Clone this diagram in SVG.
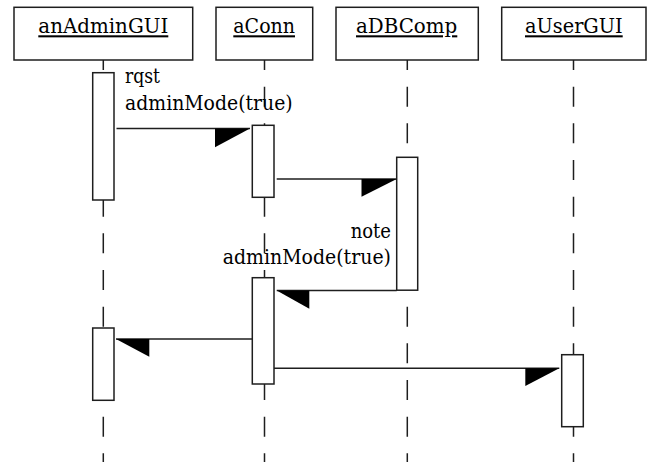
<svg xmlns="http://www.w3.org/2000/svg" width="649" height="462" viewBox="0 0 649 462">
<style>
.box{fill:#fff;stroke:#1e1e1e;stroke-width:1.5}
.life{stroke:#1e1e1e;stroke-width:1.5;stroke-dasharray:20 16.67;stroke-dashoffset:10;fill:none}
.act{fill:#fff;stroke:#1e1e1e;stroke-width:1.5}
.msg{stroke:#1e1e1e;stroke-width:1.5;fill:none}
.head{fill:#000;stroke:none}
.t{font-family:'DejaVu Serif','Liberation Serif',serif;font-size:20.5px;fill:#000}
.title{text-decoration:underline}
</style>
<rect width="649" height="462" fill="#fff"/>
<g id="anAdminGUI">
<line class="life" x1="103.3" y1="60" x2="103.3" y2="462"/>
<rect class="box" x="14" y="7.3" width="178.7" height="52.7"/>
<text class="t title" x="38.3" y="33.3" textLength="130" lengthAdjust="spacingAndGlyphs">anAdminGUI</text>
<rect class="act" x="92.7" y="72.7" width="21.3" height="127.3"/>
<rect class="act" x="92.7" y="328" width="21.3" height="72.3"/>
</g>
<g id="aConn">
<line class="life" x1="264.5" y1="60" x2="264.5" y2="462"/>
<rect class="box" x="216" y="7.3" width="96.7" height="52.7"/>
<text class="t title" x="233.3" y="33.3" textLength="61.7" lengthAdjust="spacingAndGlyphs">aConn</text>
<rect class="act" x="252.3" y="125.3" width="21.7" height="72"/>
<rect class="act" x="252.3" y="277.7" width="21.7" height="106.3"/>
</g>
<g id="aDBComp">
<line class="life" x1="407.3" y1="60" x2="407.3" y2="462"/>
<rect class="box" x="336" y="7.3" width="142.3" height="52.7"/>
<text class="t title" x="356" y="33.3" textLength="101.3" lengthAdjust="spacingAndGlyphs">aDBComp</text>
<rect class="act" x="396.7" y="157.3" width="21" height="132.9"/>
</g>
<g id="aUserGUI">
<line class="life" x1="573.5" y1="60" x2="573.5" y2="462"/>
<rect class="box" x="501.7" y="7.3" width="144.3" height="52.7"/>
<text class="t title" x="525" y="33.3" textLength="97.7" lengthAdjust="spacingAndGlyphs">aUserGUI</text>
<rect class="act" x="561.7" y="354.7" width="21.6" height="72"/>
</g>
<g id="connectors">
<g id="m1">
<line class="msg" x1="116.5" y1="128.5" x2="250" y2="128.5"/>
<polygon class="head" points="250,128.5 215,128.5 215,147.3"/>
<text class="t" x="125" y="83.3" textLength="35" lengthAdjust="spacingAndGlyphs">rqst</text>
<text class="t" x="125" y="109.5" textLength="167.7" lengthAdjust="spacingAndGlyphs">adminMode(true)</text>
</g>
<g id="m2">
<line class="msg" x1="276.7" y1="179" x2="396.7" y2="179"/>
<polygon class="head" points="396.7,179 361.5,179 361.5,196.7"/>
</g>
<g id="m3">
<line class="msg" x1="396.7" y1="290.4" x2="276.7" y2="290.4"/>
<polygon class="head" points="276.7,290.4 309.3,290.4 309.3,308.7"/>
<text class="t" x="350.7" y="238.3" textLength="40.3" lengthAdjust="spacingAndGlyphs">note</text>
<text class="t" x="222.7" y="264" textLength="168.3" lengthAdjust="spacingAndGlyphs">adminMode(true)</text>
</g>
<g id="m4">
<line class="msg" x1="252.3" y1="339" x2="116" y2="339"/>
<polygon class="head" points="116,339 149.3,339 149.3,356.7"/>
</g>
<g id="m5">
<line class="msg" x1="274" y1="368.3" x2="559.3" y2="368.3"/>
<polygon class="head" points="559.3,368.3 525.3,368.3 525.3,386"/>
</g>
</g>
</svg>
